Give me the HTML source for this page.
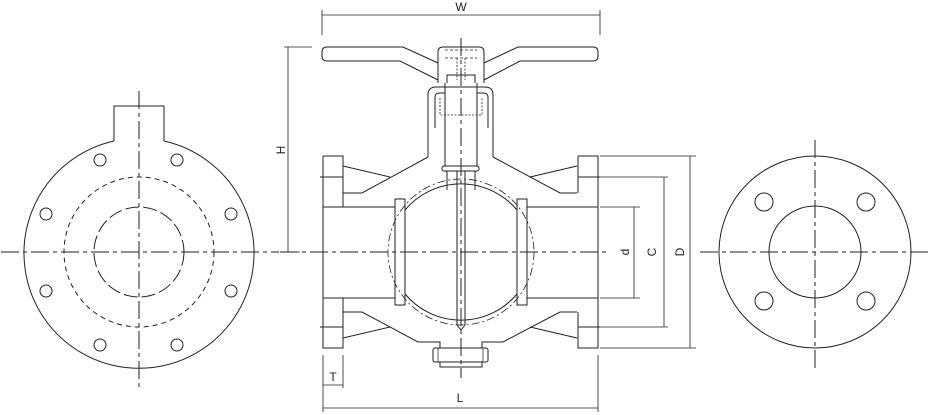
<!DOCTYPE html>
<html><head><meta charset="utf-8"><style>
html,body{margin:0;padding:0;background:#fff;width:931px;height:415px;overflow:hidden}
svg{display:block}
text{font-family:"Liberation Sans",sans-serif;font-size:12px;fill:#222}
</style></head><body>
<svg width="931" height="415" viewBox="0 0 931 415" xmlns="http://www.w3.org/2000/svg">
<g fill="none" stroke="#222" stroke-width="1">
<!-- LEFT VIEW -->
<path d="M114,141 L114,106 L164,106 L164,141"/>
<path d="M114,141 A115,115 0 1 0 164,141"/>
<circle cx="139" cy="252" r="75" stroke-dasharray="5,4"/>
<circle cx="139" cy="252" r="45" stroke-dasharray="14,4"/>
<g>
<circle cx="100" cy="160" r="6"/><circle cx="177" cy="160" r="6"/>
<circle cx="46" cy="214" r="6"/><circle cx="231" cy="214" r="6"/>
<circle cx="46" cy="291" r="6"/><circle cx="231" cy="291" r="6"/>
<circle cx="100" cy="345" r="6"/><circle cx="177" cy="345" r="6"/>
</g>
<line x1="1" y1="252" x2="279" y2="252" stroke-dasharray="18,4,4,4"/>
<line x1="139" y1="91" x2="139" y2="390" stroke-dasharray="18,4,4,4"/>

<!-- RIGHT VIEW -->
<circle cx="815" cy="252" r="96"/>
<circle cx="815" cy="252" r="46"/>
<circle cx="764" cy="202" r="9"/><circle cx="866" cy="202" r="9"/>
<circle cx="764" cy="301" r="9"/><circle cx="866" cy="301" r="9"/>
<line x1="700" y1="252" x2="931" y2="252" stroke-dasharray="18,4,4,4"/>
<line x1="815" y1="140" x2="815" y2="368" stroke-dasharray="18,4,4,4"/>

<!-- MIDDLE VIEW -->
<!-- handle -->
<path d="M327,47 L403,47 L438,63 M438,80 L400,61 L327,61 Q322,61 322,56 L322,52 Q322,47 327,47"/>
<path d="M593,47 L518,47 L484,63 M484,80 L520,61 L593,61 Q598,61 598,56 L598,52 Q598,47 593,47"/>
<path d="M438,83 L438,52 Q438,47 443,47 L479,47 Q484,47 484,52 L484,83"/>
<path d="M447,83 L447,75 L475,75 L475,83" />
<line x1="445" y1="50" x2="477" y2="50" stroke-dasharray="3,2" stroke-width="0.8"/>
<line x1="445" y1="58" x2="477" y2="58" stroke-dasharray="3,2" stroke-width="0.8"/>
<path d="M457,58 L457,80 M465,58 L465,80" stroke-dasharray="2,1.5" stroke-width="0.8"/>
<!-- bonnet -->
<path d="M428,157 L428,95 Q428,87 436,87 L485,87 Q493,87 493,95 L493,157"/>
<path d="M435,128 L435,97 Q435,93 440,93 L445,93 M488,128 L488,97 Q488,93 483,93 L477,93"/>
<path d="M440,98 L440,115 L482,115 L482,98" stroke-dasharray="2,1.5" stroke-width="0.8"/>
<path d="M445,83 L445,166 M477,83 L477,166"/>
<rect x="442" y="166" width="37" height="5" rx="2"/>
<path d="M447,171 L447,190 M475,171 L475,190"/>
<path d="M457,171 L457,325 L461,330 L465,325 L465,171"/>
<!-- body outline -->
<path d="M343,193 L362,193 L428,157"/>
<path d="M577,193 L560,193 L493,157"/>
<path d="M343,166 L390,177 M577,166 L530,177"/>
<path d="M343,312 L362,312 L418,342 L440,342 L440,348 M482,348 L482,342 L503,342 L560,312 L577,312"/>
<path d="M343,338 L390,327 M577,338 L530,327"/>
<!-- flanges -->
<path d="M323,156 L343,156 L343,193 M323,156 L323,348 L343,348 L343,312"/>
<path d="M578,156 L598,156 L598,348 L578,348 L578,312 M578,156 L578,193"/>
<path d="M320,177 L343,177 M320,327 L343,327 M578,177 L600,177 M578,327 L600,327"/>
<path d="M343,182 L343,207 M343,298 L343,323"/>
<!-- pipe lines -->
<path d="M323,207 L395,207 M323,298 L395,298 M527,207 L598,207 M527,298 L598,298"/>
<!-- seats -->
<rect x="395" y="199" width="10" height="106"/>
<rect x="517" y="199" width="10" height="106"/>
<!-- ball -->
<path d="M405,210 A73,73 0 0 1 517,210" />
<path d="M405,294 A73,73 0 0 0 517,294" />
<circle cx="461" cy="252" r="73" stroke-dasharray="8,3,2,3" stroke-width="0.8"/>
<!-- bottom plug -->
<rect x="433" y="348" width="55" height="14" rx="2"/>
<path d="M440,362 L440,367 L482,367 L482,362"/>
<path d="M438,348 L438,362 M483,348 L483,362" stroke-width="0.7"/>
<!-- centerlines -->
<line x1="280" y1="252" x2="610" y2="252" stroke-dasharray="18,4,4,4"/>
<line x1="461" y1="38" x2="461" y2="378" stroke-dasharray="18,4,4,4"/>

<!-- DIMENSIONS -->
<path d="M322,10 L322,35 M600,10 L600,35 M322,15 L600,15" stroke-width="0.8"/>
<path d="M284,47 L312,47 M284,252 L300,252 M288,47 L288,252" stroke-width="0.8"/>
<path d="M600,207 L640,207 M600,298 L640,298 M634,207 L634,298" stroke-width="0.8"/>
<path d="M600,177 L668,177 M600,327 L668,327 M664,177 L664,327" stroke-width="0.8"/>
<path d="M600,156 L696,156 M600,348 L696,348 M690,156 L690,348" stroke-width="0.8"/>
<path d="M323,355 L323,412 M343,355 L343,388 M598,355 L598,412 M323,385 L343,385 M323,408 L598,408" stroke-width="0.8"/>
</g>
<text x="461" y="11" text-anchor="middle">W</text>
<text x="333" y="381" text-anchor="middle">T</text>
<text x="460" y="402" text-anchor="middle">L</text>
<text transform="translate(285,150) rotate(-90)" text-anchor="middle">H</text>
<text transform="translate(629,252) rotate(-90)" text-anchor="middle">d</text>
<text transform="translate(656,252) rotate(-90)" text-anchor="middle">C</text>
<text transform="translate(684,252) rotate(-90)" text-anchor="middle">D</text>
</svg>
</body></html>
